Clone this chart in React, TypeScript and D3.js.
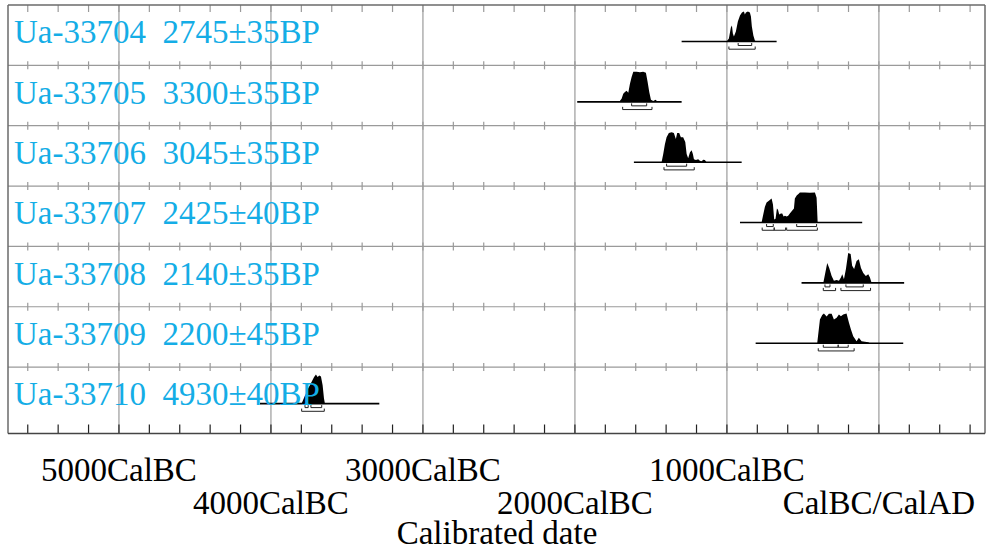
import React from "react";
import * as d3 from "d3";

// OxCal-style multiplot of seven radiocarbon dates
const rowLabels = [
  "Ua-33704  2745±35BP",
  "Ua-33705  3300±35BP",
  "Ua-33706  3045±35BP",
  "Ua-33707  2425±40BP",
  "Ua-33708  2140±35BP",
  "Ua-33709  2200±45BP",
  "Ua-33710  4930±40BP",
];

// calibration span drawn as the baseline of each row (years, BC negative)
const spans: [number, number][] = [
  [-1298, -673],
  [-1985, -1298],
  [-1612, -903],
  [-914, -110],
  [-509, 166],
  [-811, 160],
  [-4072, -3287],
];

// probability, relative to the peak of each distribution
const dist1: [number, number][] = [
  [-1002, 0], [-987, 0.1], [-974, 0.47], [-967, 0.53], [-961, 0.27], [-954, 0.17],
  [-941, 0.33], [-928, 0.67], [-914, 0.87], [-901, 0.97], [-888, 1], [-882, 0.9],
  [-875, 0.97], [-862, 1], [-849, 0.97], [-842, 0.83], [-836, 0.5], [-826, 0.2],
  [-816, 0.03], [-809, 0],
];
const dist2: [number, number][] = [
  [-1709, 0], [-1693, 0.1], [-1682, 0.27], [-1671, 0.33], [-1660, 0.37], [-1649, 0.3],
  [-1638, 0.6], [-1627, 0.83], [-1616, 1], [-1594, 1], [-1572, 0.99], [-1551, 1],
  [-1533, 0.97], [-1522, 0.67], [-1511, 0.33], [-1500, 0.07], [-1485, 0.03],
  [-1469, 0.07], [-1456, 0],
];
const dist3: [number, number][] = [
  [-1430, 0], [-1419, 0.27], [-1408, 0.6], [-1397, 0.83], [-1382, 0.97], [-1364, 1],
  [-1349, 0.97], [-1336, 0.77], [-1327, 0.97], [-1314, 0.97], [-1303, 0.83],
  [-1288, 0.83], [-1274, 0.67], [-1265, 0.27], [-1255, 0.13], [-1243, 0.33],
  [-1232, 0.4], [-1224, 0.27], [-1217, 0.1], [-1204, 0.07], [-1189, 0.1],
  [-1178, 0.05], [-1166, 0.03], [-1156, 0.08], [-1145, 0.07], [-1134, 0],
];
const dist4: [number, number][] = [
  [-772, 0], [-761, 0.27], [-750, 0.53], [-739, 0.67], [-724, 0.73], [-706, 0.8],
  [-697, 0.6], [-689, 0.1], [-680, 0.13], [-671, 0.47], [-664, 0.43], [-656, 0.27],
  [-645, 0.3], [-636, 0.3], [-627, 0.2], [-618, 0.23], [-607, 0.2], [-597, 0.23],
  [-586, 0.3], [-570, 0.4], [-559, 0.47], [-553, 0.8], [-541, 0.9], [-526, 0.97],
  [-520, 1], [-487, 1], [-454, 0.99], [-421, 1], [-410, 0.83], [-403, 0],
];
const dist5: [number, number][] = [
  [-366, 0], [-340, 0.66], [-327, 0.5], [-311, 0.23], [-296, 0.07], [-278, 0.1],
  [-263, 0.07], [-250, 0.18], [-241, 0.29], [-230, 0.12], [-217, 0.46], [-202, 1],
  [-186, 0.96], [-176, 0.57], [-163, 0.46], [-147, 0.73], [-132, 0.79], [-118, 0.5],
  [-103, 0.33], [-86, 0.23], [-70, 0.29], [-59, 0.18], [-48, 0],
];
const dist6: [number, number][] = [
  [-406, 0], [-388, 0.79], [-373, 0.94], [-362, 0.99], [-344, 0.89], [-329, 0.98],
  [-311, 0.98], [-296, 0.79], [-278, 0.85], [-263, 0.96], [-250, 0.9], [-235, 0.96],
  [-213, 0.99], [-197, 0.68], [-184, 0.46], [-169, 0.23], [-147, 0.07], [-132, 0.18],
  [-114, 0.07], [-92, 0.05], [-70, 0.03], [-59, 0],
];
const dist7: [number, number][] = [
  [-3798, 0], [-3776, 0.27], [-3755, 0.5], [-3733, 0.72], [-3716, 0.89], [-3704, 0.97],
  [-3693, 0.89], [-3682, 0.94], [-3671, 0.9], [-3660, 0.61], [-3651, 0.17], [-3645, 0],
];
const dists = [dist1, dist2, dist3, dist4, dist5, dist6, dist7];

// 68.2% and 95.4% ranges
const ranges68: [number, number][][] = [
  [[-926, -837]],
  [[-1627, -1528]],
  [[-1397, -1265]],
  [[-739, -695], [-541, -410]],
  [[-355, -322], [-217, -103]],
  [[-366, -268], [-268, -202]],
  [[-3776, -3755], [-3737, -3666]],
];
const ranges95: [number, number][][] = [
  [[-987, -814]],
  [[-1686, -1493]],
  [[-1414, -1215]],
  [[-768, -689], [-689, -614], [-607, -405]],
  [[-366, -285], [-250, -55]],
  [[-399, -163]],
  [[-3798, -3649]],
];

const majorTicks = [-5000, -4000, -3000, -2000, -1000, 0];
const majorLabels = ["5000CalBC", "4000CalBC", "3000CalBC", "2000CalBC", "1000CalBC", "CalBC/CalAD"];
const minorTicks = d3.range(-5600, 700, 200);
const axisTitle = "Calibrated date";

const W = 988;
const H = 551;
const left = 8;
const right = 985;
const top = 5;
const rowH = 60.35;
const bottom = 433.5;
const peakH = 30;
const baseOff = 36.5;
const labelColor = "#14ade6";
const frameColor = "#6a6a6a";
const gridColor = "#9a9a9a";
const font = "'Liberation Serif', 'Times New Roman', serif";

export default function App() {
  const x = d3.scaleLinear().domain([-5730, 698]).range([left, right]);
  const rowTop = (i: number) => top + rowH * i;

  return (
    <svg
      width={W}
      height={H}
      style={{ position: "absolute", left: 0, top: 0, background: "#fff" }}
    >
      <rect x={0} y={0} width={W} height={H} fill="#fff" />

      {/* vertical grid at every 1000 years */}
      {majorTicks.map((t) => (
        <line key={"g" + t} x1={x(t)} x2={x(t)} y1={top} y2={bottom} stroke={gridColor} strokeWidth={1.2} />
      ))}

      {/* row separators with small crossing ticks */}
      {rowLabels.slice(1).map((_, i) => {
        const y = rowTop(i + 1);
        return (
          <g key={"sep" + i}>
            <line x1={left} x2={right} y1={y} y2={y} stroke={gridColor} strokeWidth={1.2} />
            {minorTicks.map((t) => (
              <line key={t} x1={x(t)} x2={x(t)} y1={y - 4} y2={y + 4} stroke={gridColor} strokeWidth={1.2} />
            ))}
          </g>
        );
      })}

      {/* top ticks */}
      {minorTicks.map((t) => (
        <line key={"tt" + t} x1={x(t)} x2={x(t)} y1={top} y2={top + 7} stroke={gridColor} strokeWidth={1.2} />
      ))}

      {/* bottom ticks */}
      {minorTicks.map((t) => (
        <line key={"bt" + t} x1={x(t)} x2={x(t)} y1={bottom - 9} y2={bottom} stroke="#222" strokeWidth={1.2} />
      ))}

      {/* frame */}
      <line x1={left} x2={right} y1={top} y2={top} stroke={frameColor} strokeWidth={1.5} />
      <line x1={left} x2={left} y1={top} y2={bottom} stroke={frameColor} strokeWidth={1.5} />
      <line x1={right} x2={right} y1={top} y2={bottom} stroke={frameColor} strokeWidth={1.5} />
      <line x1={left} x2={right} y1={bottom} y2={bottom} stroke="#444" strokeWidth={1.5} />

      {/* distributions */}
      {dists.map((d, i) => {
        const base = rowTop(i) + baseOff;
        const area = d3
          .area<[number, number]>()
          .x((p) => x(p[0]))
          .y0(base)
          .y1((p) => base - p[1] * peakH)
          .curve(d3.curveLinear);
        const [s0, s1] = spans[i];
        const bracket = (r: [number, number], yb: number, yt: number) =>
          `M${x(r[0])},${yt}V${yb}H${x(r[1])}V${yt}`;
        return (
          <g key={"d" + i}>
            <line x1={x(s0)} x2={x(s1)} y1={base} y2={base} stroke="#000" strokeWidth={1.6} />
            <path d={area(d) || ""} fill="#000" />
            {ranges68[i].map((r, k) => (
              <path key={"a" + k} d={bracket(r, base + 4, base + 1.5)} fill="none" stroke="#222" strokeWidth={1} />
            ))}
            {ranges95[i].map((r, k) => (
              <path key={"b" + k} d={bracket(r, base + 7.7, base + 5)} fill="none" stroke="#222" strokeWidth={1} />
            ))}
          </g>
        );
      })}

      {/* row labels */}
      {rowLabels.map((l, i) => (
        <text
          key={"l" + i}
          x={14}
          y={rowTop(i) + 38.3}
          fill={labelColor}
          fontFamily={font}
          fontSize={33}
          style={{ whiteSpace: "pre" }}
        >
          {l}
        </text>
      ))}

      {/* axis labels, alternating lines */}
      {majorTicks.map((t, i) => (
        <text
          key={"ml" + t}
          x={x(t)}
          y={i % 2 === 0 ? 481 : 514}
          textAnchor="middle"
          fontFamily={font}
          fontSize={33}
          fill="#000"
        >
          {majorLabels[i]}
        </text>
      ))}
      <text x={497} y={544} textAnchor="middle" fontFamily={font} fontSize={33} fill="#000">
        {axisTitle}
      </text>
    </svg>
  );
}
